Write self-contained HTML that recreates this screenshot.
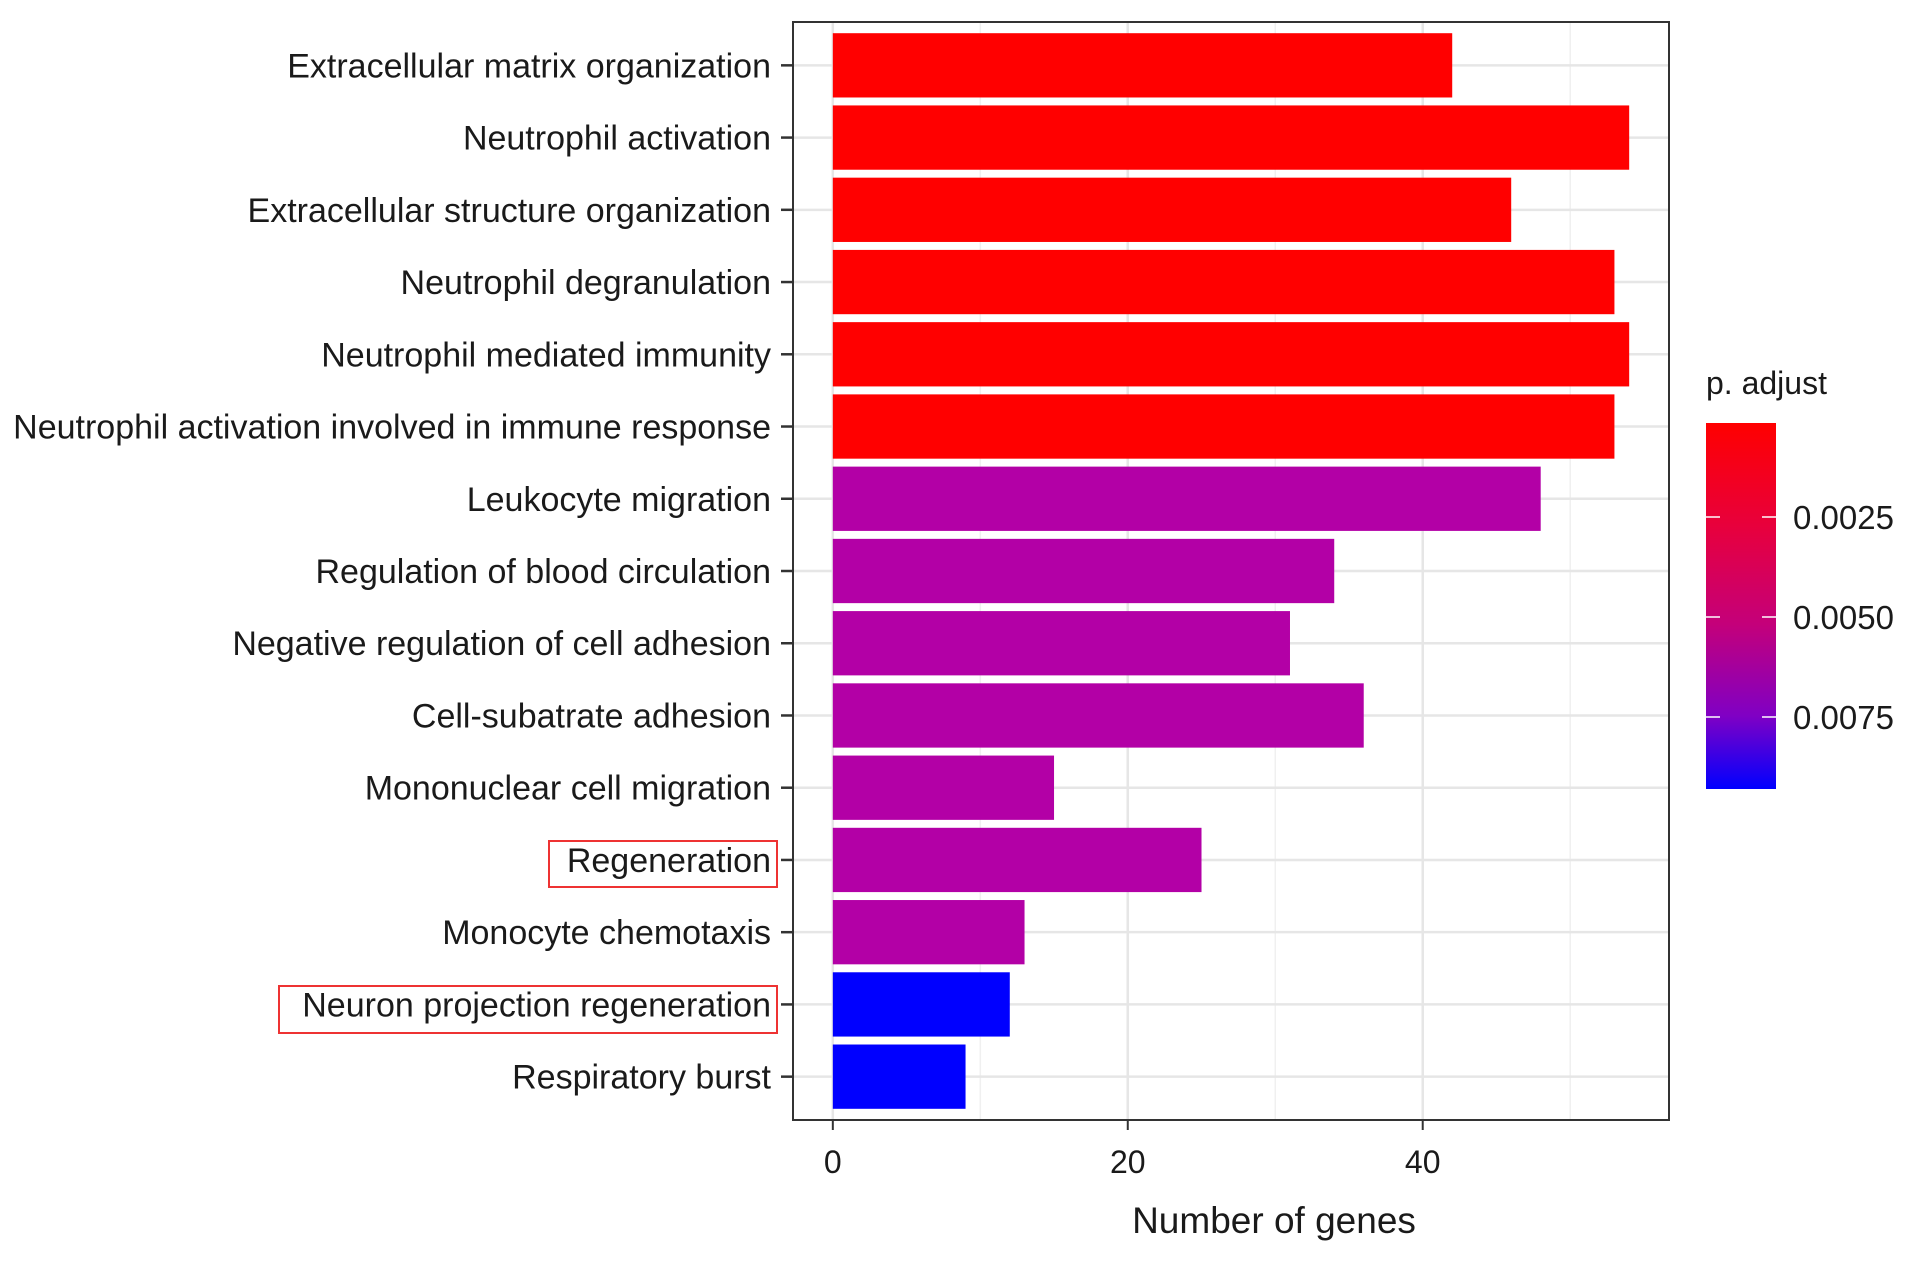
<!DOCTYPE html>
<html><head><meta charset="utf-8"><style>
body{margin:0;background:#fff;}
svg text{font-family:"Liberation Sans",Arial,sans-serif;fill:#1a1a1a;}
</style></head><body>
<svg id="chart" width="1913" height="1256" xmlns="http://www.w3.org/2000/svg">
<defs><linearGradient id="cb" x1="0" y1="0" x2="0" y2="1">
<stop offset="0" stop-color="#ff0000"/><stop offset="0.28" stop-color="#e8003c"/><stop offset="0.55" stop-color="#c4007a"/><stop offset="0.8" stop-color="#8000c4"/><stop offset="1" stop-color="#0000ff"/></linearGradient></defs>
<g id="grid"></g>
<g id="bars"></g>
<rect x="793" y="22" width="876" height="1098" fill="none" stroke="#333" stroke-width="2"/>
<g id="ylabels"></g>
<g id="xaxis"></g>
<text x="1274" y="1233" font-size="37" text-anchor="middle">Number of genes</text>
<rect x="549" y="841" width="228" height="46" fill="none" stroke="#ee3333" stroke-width="2"/>
<rect x="279" y="986" width="498" height="47" fill="none" stroke="#ee3333" stroke-width="2"/>
<g>
<text x="1706" y="394" font-size="32">p. adjust</text>
<rect x="1706" y="423" width="70" height="366" fill="url(#cb)"/>
<g id="legendticks"></g>
</g>
</svg>
<script>
const categories=["Extracellular matrix organization","Neutrophil activation","Extracellular structure organization","Neutrophil degranulation","Neutrophil mediated immunity","Neutrophil activation involved in immune response","Leukocyte migration","Regulation of blood circulation","Negative regulation of cell adhesion","Cell-subatrate adhesion","Mononuclear cell migration","Regeneration","Monocyte chemotaxis","Neuron projection regeneration","Respiratory burst"];
const counts=[42,54,46,53,54,53,48,34,31,36,15,25,13,12,9];
const barColors=["#ff0000","#ff0000","#ff0000","#ff0000","#ff0000","#ff0000","#b300a6","#b300a6","#b300a6","#b300a6","#b300a6","#b300a6","#b300a6","#0000ff","#0000ff"];
const xTicks=[0,20,40];
const xMinor=[10,30,50];
const legendTicks=["0.0025","0.0050","0.0075"];
const legendTickY=[517,617,717];
const NS="http://www.w3.org/2000/svg";
const L=793,R=1669,T=22,B=1120,xmin=-2.7,xmax=56.7;
const x=v=>L+(v-xmin)/(xmax-xmin)*(R-L);
const step=(B-T)/(categories.length+0.2);
const y=i=>T+step*(i+0.6);
function mk(t,a,p){const e=document.createElementNS(NS,t);for(const k in a)e.setAttribute(k,a[k]);p.appendChild(e);return e;}
const g=document.getElementById('grid'),bg=document.getElementById('bars'),yl=document.getElementById('ylabels'),xa=document.getElementById('xaxis'),lt=document.getElementById('legendticks');
xMinor.forEach(v=>{const l=mk('line',{x1:x(v),x2:x(v),y1:T,y2:B,stroke:'#f0f0f0','stroke-width':1.5},g);

});
xTicks.forEach(v=>{const l=mk('line',{x1:x(v),x2:x(v),y1:T,y2:B,stroke:'#e6e6e6','stroke-width':2.5},g);


const tk=mk('line',{x1:x(v),x2:x(v),y1:B,y2:B+10,stroke:'#333','stroke-width':2},xa);


const t=mk('text',{x:x(v),y:1173,'font-size':32,'text-anchor':'middle'},xa);t.textContent=v;

});
categories.forEach((c,i)=>{const hl=mk('line',{x1:L,x2:R,y1:y(i),y2:y(i),stroke:'#e6e6e6','stroke-width':2.5},g);


const h=step*0.89;
const r=mk('rect',{x:x(0),y:y(i)-h/2,width:x(counts[i])-x(0),height:h,fill:barColors[i]},bg);


const tk=mk('line',{x1:L-12,x2:L,y1:y(i),y2:y(i),stroke:'#333','stroke-width':2.5},yl);


const t=mk('text',{x:771,y:y(i)+12,'font-size':34,'text-anchor':'end'},yl);t.textContent=c;

});
legendTicks.forEach((s,i)=>{const a=mk('line',{x1:1706,x2:1720,y1:legendTickY[i],y2:legendTickY[i],stroke:'#fff','stroke-width':1.5},lt);


const b=mk('line',{x1:1762,x2:1776,y1:legendTickY[i],y2:legendTickY[i],stroke:'#fff','stroke-width':1.5},lt);


const t=mk('text',{x:1793,y:legendTickY[i]+12,'font-size':33},lt);t.textContent=s;

});
</script>
</body></html>
